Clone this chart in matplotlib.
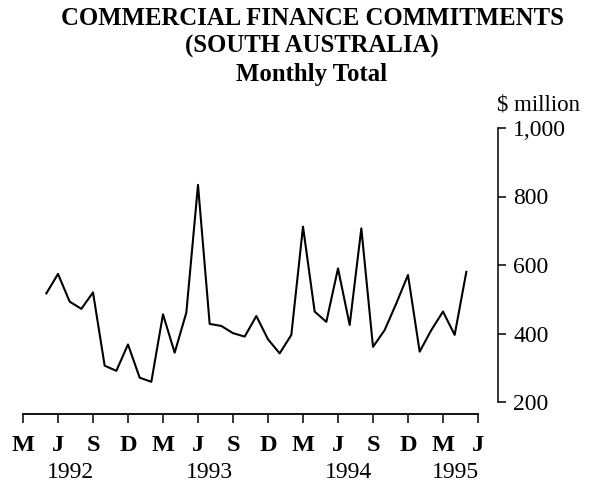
import matplotlib
matplotlib.use('Agg')
import matplotlib.pyplot as plt
import numpy as np

# monthly commitments, $ million, May 1992 .. May 1995
commitments = [517, 574, 493, 472, 520, 306, 291, 368, 271, 259,
               456, 344, 461, 834, 428, 422, 401, 391, 451, 383,
               342, 396, 712, 464, 434, 590, 425, 707, 361, 410,
               488, 571, 347, 410, 464, 396, 580]
first_month = 2  # months after March 1992

tick_letters = ['M', 'J', 'S', 'D', 'M', 'J', 'S', 'D', 'M', 'J', 'S', 'D', 'M', 'J']
years = ['1992', '1993', '1994', '1995']
year_pos = [4.1, 16.0, 27.9, 37.1]
y_ticks = [200, 400, 600, 800, 1000]

plt.rcParams['font.family'] = ['Liberation Serif', 'DejaVu Serif']

fig = plt.figure(figsize=(5.9, 4.82), dpi=100)
W, H = 590, 482
ax = fig.add_axes([23 / W, (H - 414) / H, (498 - 23) / W, (414 - 128) / H])

months = np.arange(first_month, first_month + len(commitments))
ax.plot(months, commitments, color='black', lw=1.5)

ax.set_xlim(0, 39 + 20 / 11.667)
ax.set_ylim(200 - 12 / 0.3425, 1000)

for s in ['left', 'top']:
    ax.spines[s].set_visible(False)
ax.spines['bottom'].set_bounds(0, 39)
ax.spines['right'].set_bounds(200, 1000)
ax.spines['bottom'].set_linewidth(1.3)
ax.spines['right'].set_linewidth(1.1)

ax.set_xticks(np.arange(0, 3 * len(tick_letters), 3))
ax.set_xticklabels(tick_letters, fontsize=17.5, fontweight='bold')
ax.tick_params(axis='x', direction='out', length=6.5, width=1.1, pad=8.5)

ax.yaxis.tick_right()
ax.set_yticks(y_ticks)
ax.set_yticklabels(['{:,}'.format(v) for v in y_ticks], fontsize=17)
ax.tick_params(axis='y', direction='out', length=5.8, width=1.1, pad=5)

for yr, xp in zip(years, year_pos):
    ax.text(xp, -0.224, yr, transform=ax.get_xaxis_transform(),
            ha='center', va='baseline', fontsize=17)

fig.text(497 / W, (H - 110) / H, '$ million', ha='left', va='baseline', fontsize=16.5)

title_lines = ['COMMERCIAL FINANCE COMMITMENTS', '(SOUTH AUSTRALIA)', 'Monthly Total']
for i, line in enumerate(title_lines):
    fig.text(312 / W, (H - (25 + 28 * i)) / H, line, ha='center', va='baseline',
             fontsize=17.8, fontweight='bold')

fig.savefig('out.png', dpi=100)
